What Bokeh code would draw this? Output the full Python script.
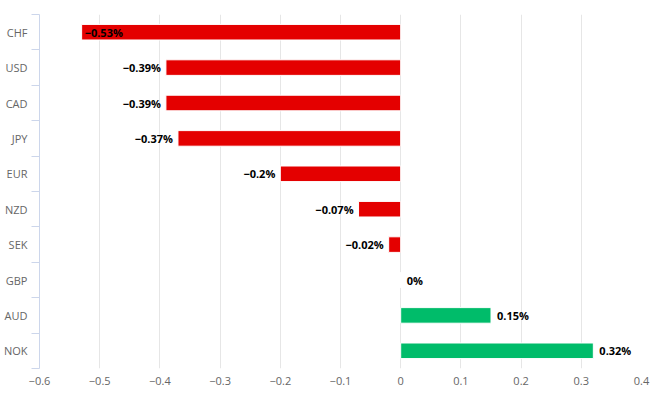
from bokeh.plotting import figure
from bokeh.models import ColumnDataSource, FixedTicker, Range1d
from bokeh.core.properties import value
from bokeh.embed import file_html
from bokeh.resources import INLINE

currencies = ["CHF", "USD", "CAD", "JPY", "EUR", "NZD", "SEK", "GBP", "AUD", "NOK"]
changes = [-0.53, -0.39, -0.39, -0.37, -0.2, -0.07, -0.02, 0.0, 0.15, 0.32]
x_ticks = [-0.6, -0.5, -0.4, -0.3, -0.2, -0.1, 0.0, 0.1, 0.2, 0.3, 0.4]
x_tick_labels = ["−0.6", "−0.5", "−0.4", "−0.3", "−0.2", "−0.1", "0", "0.1", "0.2", "0.3", "0.4"]

RED = "#e40000"
GREEN = "#00bc6a"
FONT = "Open Sans"

ypos = list(range(len(currencies)))
colors = [GREEN if v > 0 else RED for v in changes]
labels = [(f"{v:g}%").replace("-", "−") for v in changes]

p = figure(width=652, height=397, output_backend="svg", toolbar_location=None,
           x_range=Range1d(-0.6, 0.4), y_range=Range1d(len(currencies) - 0.5, -0.5),
           min_border_left=0, min_border_right=11, min_border_top=14, min_border_bottom=29)
p.outline_line_color = None
p.background_fill_color = "white"

bars = ColumnDataSource(dict(y=ypos, right=changes, color=colors))
p.hbar(y="y", left=0, right="right", height=0.44, fill_color="color",
       line_color="white", line_width=1, source=bars)

# data labels
neg_out = dict(x=[], y=[], t=[])
inside = dict(x=[], y=[], t=[])
pos = dict(x=[], y=[], t=[])
for v, yy, t in zip(changes, ypos, labels):
    if v <= -0.5:
        d = inside
    elif v < 0:
        d = neg_out
    else:
        d = pos
    d["x"].append(v); d["y"].append(yy); d["t"].append(t)

common = dict(text_font=value(FONT), text_font_size="11px", text_font_style="bold",
              text_color="black", text_baseline="middle")
p.text(x="x", y="y", text="t", source=ColumnDataSource(neg_out), text_align="right",
       x_offset=-5, **common)
p.text(x="x", y="y", text="t", source=ColumnDataSource(inside), text_align="left",
       x_offset=3, **common)
p.text(x="x", y="y", text="t", source=ColumnDataSource(pos), text_align="left",
       x_offset=6, **common)

# x axis
p.xaxis.ticker = FixedTicker(ticks=x_ticks)
p.xaxis.major_label_overrides = {t: l for t, l in zip(x_ticks, x_tick_labels)}
p.xaxis.axis_line_color = None
p.xaxis.major_tick_line_color = None
p.xaxis.minor_tick_line_color = None
p.xaxis.major_tick_out = 0
p.xaxis.major_tick_in = 0
p.xaxis.axis_label_standoff = 0
p.xaxis.major_label_text_color = "#666666"
p.xaxis.major_label_text_font = FONT
p.xaxis.major_label_text_font_size = "11px"
p.xaxis.major_label_standoff = 8
p.xgrid.ticker = FixedTicker(ticks=x_ticks)
p.xgrid.grid_line_color = "#e6e6e6"
p.ygrid.grid_line_color = None

# y axis (categories)
p.yaxis.ticker = FixedTicker(ticks=ypos, minor_ticks=[i - 0.5 for i in range(len(currencies) + 1)])
p.yaxis.major_label_overrides = {i: c for i, c in enumerate(currencies)}
p.yaxis.axis_line_color = "#ccd6eb"
p.yaxis.major_tick_line_color = None
p.yaxis.major_tick_out = 0
p.yaxis.major_tick_in = 0
p.yaxis.minor_tick_line_color = "#ccd6eb"
p.yaxis.minor_tick_out = 8
p.yaxis.minor_tick_in = 0
p.yaxis.axis_label_standoff = 0
p.yaxis.major_label_text_color = "#666666"
p.yaxis.major_label_text_font = FONT
p.yaxis.major_label_text_font_size = "11px"
p.yaxis.major_label_standoff = 4

open("out.html", "w").write(file_html(p, INLINE))
